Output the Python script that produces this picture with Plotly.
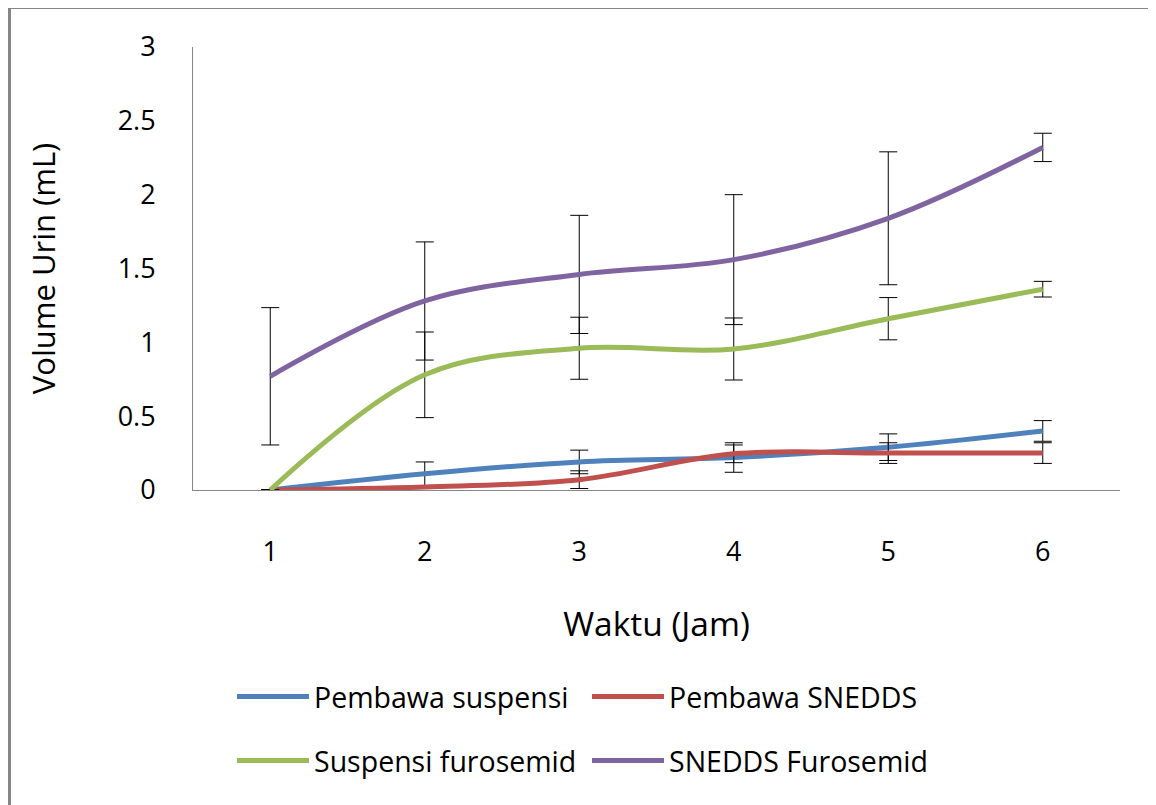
import plotly.graph_objects as go

waktu = [1, 2, 3, 4, 5, 6]
tick_labels = ["1", "2", "3", "4", "5", "6"]

series_names = ["Pembawa suspensi", "Pembawa SNEDDS", "Suspensi furosemid", "SNEDDS Furosemid"]
pembawa_suspensi = [0.0, 0.11, 0.19, 0.22, 0.29, 0.40]
pembawa_suspensi_err = [0.0, 0.08, 0.08, 0.10, 0.09, 0.07]
pembawa_snedds = [0.0, 0.02, 0.07, 0.245, 0.25, 0.25]
pembawa_snedds_err = [0.0, 0.01, 0.06, 0.06, 0.07, 0.07]
suspensi_furosemid = [0.0, 0.78, 0.96, 0.955, 1.16, 1.36]
suspensi_furosemid_err = [0.0, 0.29, 0.21, 0.21, 0.143, 0.053]
snedds_furosemid = [0.77, 1.28, 1.46, 1.56, 1.84, 2.32]
snedds_furosemid_err = [0.465, 0.40, 0.40, 0.44, 0.45, 0.096]

colors = ["#4F81BD", "#C0504D", "#9BBB59", "#8064A2"]
values = [pembawa_suspensi, pembawa_snedds, suspensi_furosemid, snedds_furosemid]
errors = [pembawa_suspensi_err, pembawa_snedds_err, suspensi_furosemid_err, snedds_furosemid_err]
legend_ids = ["legend", "legend", "legend2", "legend2"]

FONT = "Open Sans"

fig = go.Figure()
for name, y, e, c, lg in zip(series_names, values, errors, colors, legend_ids):
    fig.add_trace(go.Scatter(
        x=waktu, y=y, name=name, mode="lines",
        line=dict(color=c, width=5, shape="spline", smoothing=1),
        error_y=dict(type="data", array=e, visible=True, color="#000000", thickness=1, width=9),
        legend=lg,
    ))

# page offset (body margin) of 8px
OFF = 8
W, H = 1156 - OFF, 805 - OFF
L, T = 193 - OFF, 47 - OFF
R = W - (1120 - OFF)
B = H - (490 - OFF)
pw, ph = W - L - R, H - T - B

def px_x(X):
    return (X - OFF - L) / pw

def px_y(Y):
    return (H - B - (Y - OFF)) / ph

legend_common = dict(
    orientation="h", font=dict(family=FONT, size=28.5, color="#000000"),
    xanchor="left", yanchor="middle", entrywidth=268, entrywidthmode="pixels",
    itemwidth=72, bgcolor="rgba(0,0,0,0)", traceorder="normal",
)

fig.update_layout(
    width=W, height=H,
    margin=dict(l=L, r=R, t=T, b=B, autoexpand=False),
    paper_bgcolor="white", plot_bgcolor="white",
    font=dict(family=FONT, color="#000000"),
    legend=dict(x=px_x(232), y=px_y(697), **legend_common),
    legend2=dict(x=px_x(232), y=px_y(761), **legend_common),
    xaxis=dict(
        range=[0.5, 6.5], tickmode="array", tickvals=waktu, ticktext=tick_labels,
        showgrid=False, zeroline=False, showline=True, linecolor="#868686", linewidth=1,
        ticks="", tickfont=dict(family=FONT, size=27, color="#000000"),
        ticklabelstandoff=38,
        title=dict(text="Waktu (Jam)", font=dict(family=FONT, size=33.5, color="#000000"), standoff=44),
        automargin=False,
    ),
    yaxis=dict(
        range=[0, 3], tickmode="array", tickvals=[0, 0.5, 1, 1.5, 2, 2.5, 3],
        ticktext=["0", "0.5", "1", "1.5", "2", "2.5", "3"],
        showgrid=False, zeroline=False, showline=True, linecolor="#868686", linewidth=1,
        ticks="", tickfont=dict(family=FONT, size=27, color="#000000"),
        ticklabelstandoff=31,
        title=dict(text="Volume Urin (mL)", font=dict(family=FONT, size=31, color="#000000"), standoff=52),
        automargin=False,
    ),
    shapes=[
        dict(type="rect", xref="paper", yref="paper",
             x0=px_x(9.5), x1=px_x(1175), y0=px_y(840), y1=px_y(7.5),
             line=dict(color="#868686", width=3), fillcolor="rgba(0,0,0,0)", layer="below"),
    ],
)

fig.write_html("out.html")
